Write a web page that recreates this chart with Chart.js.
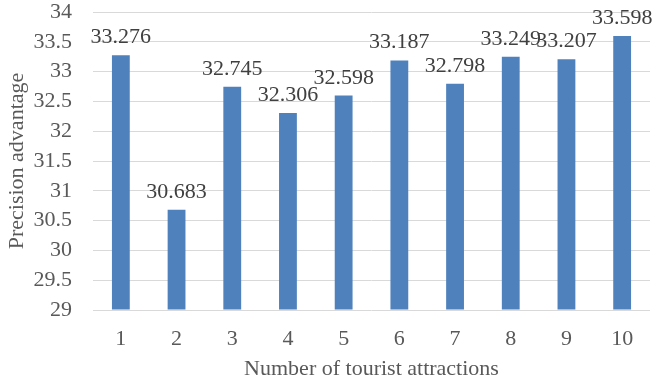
<!DOCTYPE html>
<html>
<head>
<meta charset="utf-8">
<script src="https://cdn.jsdelivr.net/npm/chart.js@4"></script>
<style>
  html, body { margin: 0; padding: 0; background: #fff; }
  #wrap { width: 654px; height: 387px; }
</style>
</head>
<body>
<div id="wrap"><canvas id="chart"></canvas></div>
<script>
const categories = ["1", "2", "3", "4", "5", "6", "7", "8", "9", "10"];
const precision = [33.276, 30.683, 32.745, 32.306, 32.598, 33.187, 32.798, 33.249, 33.207, 33.598];
const yMin = 29;
const yMax = 34;
const yStep = 0.5;

const FONT = "'Liberation Serif', 'Times New Roman', serif";
const TEXT = "#595959";

// value labels above each bar
const barLabels = {
    id: "barLabels",
    afterDatasetsDraw(chart) {
        const ctx = chart.ctx;
        const meta = chart.getDatasetMeta(0);
        ctx.save();
        ctx.font = "22px " + FONT;
        ctx.fillStyle = "#404040";
        ctx.textAlign = "center";
        ctx.textBaseline = "alphabetic";
        meta.data.forEach((bar, i) => {
            ctx.fillText(precision[i].toFixed(3), bar.x, bar.y - 12);
        });
        ctx.restore();
    },
};

new Chart(document.getElementById("chart").getContext("2d"), {
    type: "bar",
    data: {
        labels: categories,
        datasets: [
            {
                label: "Precision advantage",
                data: precision,
                backgroundColor: "#4F81BD",
                borderWidth: 0,
                barPercentage: 0.32,
                categoryPercentage: 1,
                base: yMin,
            },
        ],
    },
    options: {
        responsive: true,
        maintainAspectRatio: false,
        animation: false,
        layout: {
            padding: { top: 0, right: 4, bottom: 0, left: 0 },
        },
        plugins: {
            legend: { display: false },
            tooltip: { enabled: false },
        },
        scales: {
            x: {
                grid: { display: false },
                border: { display: false },
                ticks: {
                    color: TEXT,
                    font: { family: FONT, size: 22 },
                    padding: 8,
                },
                title: {
                    display: true,
                    text: "Number of tourist attractions",
                    color: TEXT,
                    font: { family: FONT, size: 22 },
                    padding: { top: 0, bottom: 5 },
                },
                afterFit: (scale) => {
                    scale.height = 77;
                },
            },
            y: {
                min: yMin,
                max: yMax,
                grid: { color: "#D9D9D9", lineWidth: 1, drawTicks: false },
                border: { display: false },
                ticks: {
                    stepSize: yStep,
                    autoSkip: false,
                    color: TEXT,
                    font: { family: FONT, size: 22 },
                    padding: 21,
                    callback: (v) => String(v),
                },
                title: {
                    display: true,
                    text: "Precision advantage",
                    color: TEXT,
                    font: { family: FONT, size: 22 },
                    padding: { top: 4, bottom: 0 },
                },
                afterFit: (scale) => {
                    scale.width = 93;
                    scale.paddingTop = 12;
                    scale.paddingBottom = 0;
                },
            },
        },
    },
    plugins: [barLabels],
});
</script>
</body>
</html>
